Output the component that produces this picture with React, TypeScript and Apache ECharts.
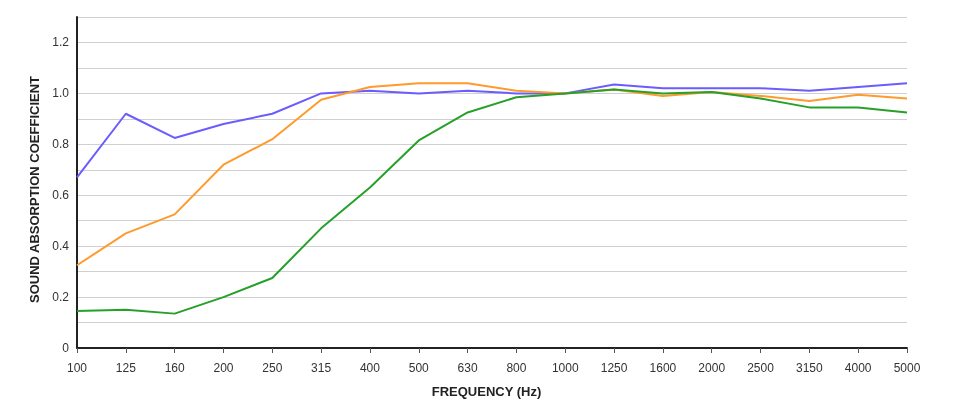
import React, { useEffect, useRef } from "react";
import * as echarts from "echarts";

const categories = ["100", "125", "160", "200", "250", "315", "400", "500", "630", "800", "1000", "1250", "1600", "2000", "2500", "3150", "4000", "5000"];
const blueValues = [0.67, 0.92, 0.825, 0.88, 0.92, 1.0, 1.01, 1.0, 1.01, 1.0, 1.0, 1.035, 1.02, 1.02, 1.02, 1.01, 1.025, 1.04];
const orangeValues = [0.325, 0.45, 0.525, 0.72, 0.82, 0.975, 1.025, 1.04, 1.04, 1.01, 1.0, 1.015, 0.99, 1.005, 0.99, 0.97, 0.995, 0.98];
const greenValues = [0.145, 0.15, 0.135, 0.2, 0.275, 0.47, 0.63, 0.815, 0.925, 0.985, 1.0, 1.015, 1.0, 1.005, 0.98, 0.945, 0.945, 0.925];
const yLabels: Record<string, string> = { "0": "0", "0.2": "0.2", "0.4": "0.4", "0.6": "0.6", "0.8": "0.8", "1": "1.0", "1.2": "1.2" };

export default function App() {
  const ref = useRef<HTMLDivElement>(null);
  useEffect(() => {
    if (!ref.current) return;
    const chart = echarts.init(ref.current, undefined, { renderer: "svg" });
    const font = "'Liberation Sans', Arial, sans-serif";
    const mk = (name: string, data: number[], color: string) => ({
      name,
      type: "line",
      data,
      symbol: "none",
      lineStyle: { color, width: 2 },
      itemStyle: { color },
    });
    chart.setOption({
      animation: false,
      grid: { left: 77, right: 58, top: 17, bottom: 69 },
      xAxis: {
        type: "category",
        data: categories,
        boundaryGap: false,
        name: "FREQUENCY (Hz)",
        nameLocation: "middle",
        nameGap: 37,
        nameTextStyle: { fontFamily: font, fontSize: 13, fontWeight: "bold", color: "#222", padding: [0, 11, 0, 0] },
        axisLine: { lineStyle: { color: "#222", width: 2 } },
        axisTick: { show: true, length: 5, alignWithLabel: true, lineStyle: { color: "#555" } },
        axisLabel: { fontFamily: font, fontSize: 12, color: "#333", margin: 14, interval: 0 },
        splitLine: { show: false },
      },
      yAxis: {
        type: "value",
        min: 0,
        max: 1.3,
        interval: 0.1,
        name: "SOUND ABSORPTION COEFFICIENT",
        nameLocation: "middle",
        nameGap: 29,
        nameTextStyle: { fontFamily: font, fontSize: 13, fontWeight: "bold", color: "#222", padding: [0, 14, 0, 0] },
        axisLine: { show: true, lineStyle: { color: "#222", width: 2 } },
        axisTick: { show: false },
        axisLabel: {
          fontFamily: font,
          fontSize: 12,
          color: "#333",
          margin: 8,
          formatter: (v: number) => {
            const k = String(Math.round(v * 10) / 10);
            return yLabels[k] ?? "";
          },
        },
        splitLine: { show: true, lineStyle: { color: "#d0d0d0", width: 1.2 } },
      },
      series: [
        mk("A", blueValues, "#6a5cff"),
        mk("B", orangeValues, "#ff9a2e"),
        mk("C", greenValues, "#27a02a"),
      ],
    });
    return () => chart.dispose();
  }, []);
  return <div ref={ref} style={{ position: "fixed", left: 0, top: 0, width: 965, height: 417 }} />;
}
